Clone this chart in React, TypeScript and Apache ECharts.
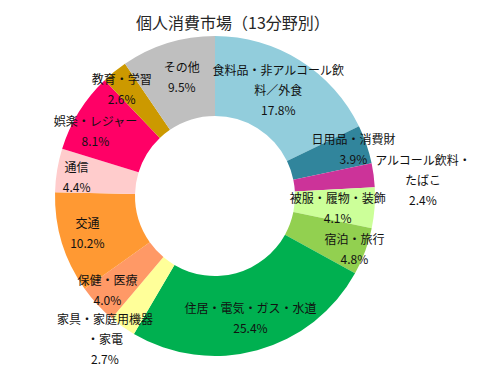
import React, { useEffect, useRef } from "react";
import * as echarts from "echarts";

const categories = [
  "食料品・非アルコール飲料／外食",
  "日用品・消費財",
  "アルコール飲料・たばこ",
  "被服・履物・装飾",
  "宿泊・旅行",
  "住居・電気・ガス・水道",
  "家具・家庭用機器・家電",
  "保健・医療",
  "交通",
  "通信",
  "娯楽・レジャー",
  "教育・学習",
  "その他",
];
// label text as wrapped in the reference
const labelNames = [
  "食料品・非アルコール飲\n料／外食",
  "日用品・消費財",
  "アルコール飲料・\nたばこ",
  "被服・履物・装飾",
  "宿泊・旅行",
  "住居・電気・ガス・水道",
  "家具・家庭用機器\n・家電",
  "保健・医療",
  "交通",
  "通信",
  "娯楽・レジャー",
  "教育・学習",
  "その他",
];
const shares = [17.8, 3.9, 2.4, 4.1, 4.8, 25.4, 2.7, 4.0, 10.2, 4.4, 8.1, 2.6, 9.5];
const colors = [
  "#92CDDC", "#31859C", "#CC3399", "#CCFF99", "#92D050", "#00B050", "#FFFF99",
  "#FF9966", "#FF9933", "#FFCCCC", "#FF0066", "#CC9900", "#BFBFBF",
];
const labelOffsets = [
  [-2, -2], [22, -8], [86, 0], [0, 2], [24, 10], [3, 3], [-39, 42],
  [-17, 10], [-10, 0], [-17, 0], [-15, -1], [-16, -12], [3, -2],
];

export default function App() {
  const ref = useRef<HTMLDivElement>(null);
  useEffect(() => {
    if (!ref.current) return;
    const chart = echarts.init(ref.current, null, { renderer: "svg" });
    const font = "'Noto Sans CJK JP', 'Noto Sans', sans-serif";
    chart.setOption({
      animation: false,
      backgroundColor: "#ffffff",
      title: {
        text: "個人消費市場（13分野別）",
        left: 131,
        top: 9,
        textStyle: { fontFamily: font, fontSize: 16, fontWeight: "normal", color: "#262626" },
      },
      series: [
        {
          type: "pie",
          center: [215, 196],
          radius: [80, 160],
          startAngle: 90,
          clockwise: true,
          avoidLabelOverlap: false,
          label: {
            show: true,
            position: "inside",
            fontFamily: font,
            fontSize: 12,
            lineHeight: 20,
            color: "#111111",
            formatter: (p: any) => `${labelNames[p.dataIndex]}\n${shares[p.dataIndex].toFixed(1)}%`,
          },
          labelLine: { show: false },
          labelLayout: (p: any) => ({
            dx: labelOffsets[p.dataIndex][0],
            dy: labelOffsets[p.dataIndex][1],
          }),
          itemStyle: { borderWidth: 0 },
          emphasis: { disabled: true },
          data: categories.map((name, i) => ({
            name,
            value: shares[i],
            itemStyle: { color: colors[i] },
          })),
        },
      ],
    });
    return () => chart.dispose();
  }, []);
  return (
    <div
      ref={ref}
      style={{ position: "fixed", left: 0, top: 0, width: 496, height: 387 }}
    />
  );
}
